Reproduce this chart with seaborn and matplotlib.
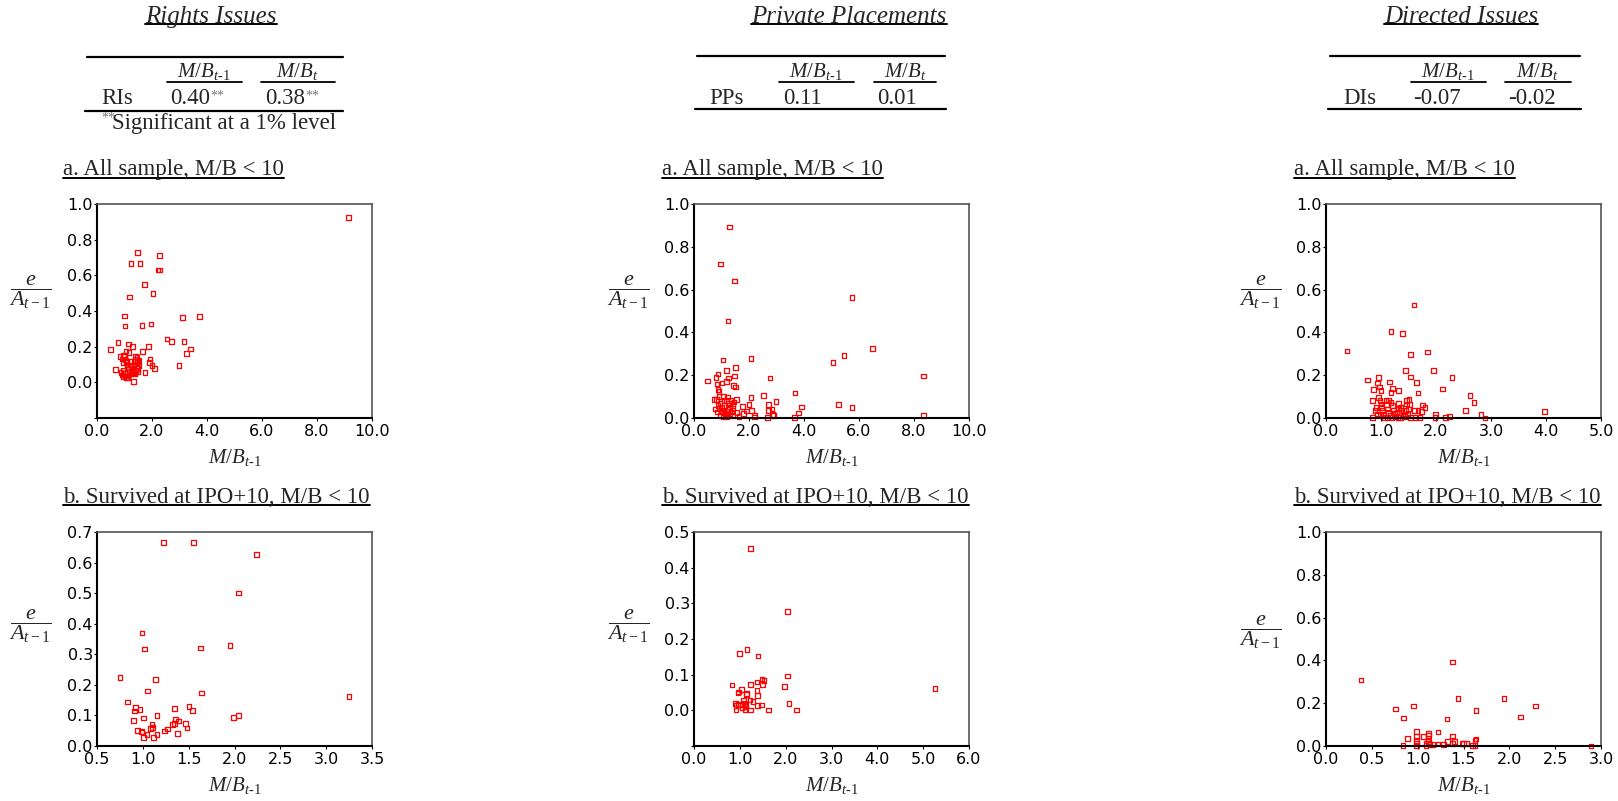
import matplotlib
matplotlib.use('Agg')
import matplotlib.pyplot as plt
from matplotlib.lines import Line2D
import seaborn as sns

# ---- data ----
# Rights issues, all sample
ri_all_x = [9.14, 1.48, 2.28, 1.23, 1.57, 2.22, 2.28, 1.73, 1.19, 2.04, 1.00, 1.02, 1.63, 1.97,
            3.10, 3.73, 2.54, 2.72, 3.17, 3.39, 3.26, 2.98, 0.49, 0.77, 1.14, 1.30, 1.87, 1.66,
            1.17, 1.06, 0.84, 0.67, 1.74, 1.93, 1.90, 2.00, 2.08, 1.32,
            0.91, 0.94, 0.97, 1.00, 1.03, 1.07, 1.09, 1.13, 1.15, 0.95, 1.00, 1.03, 1.07, 1.12,
            1.17, 1.24, 1.28, 1.31, 1.35, 1.37, 1.40, 1.45, 1.48, 1.53, 1.51, 1.46, 1.42, 1.37,
            1.32, 0.87, 0.92, 0.97, 1.19, 1.22, 1.24, 1.39, 1.45, 1.48, 1.48]
ri_all_y = [0.925, 0.728, 0.710, 0.667, 0.667, 0.629, 0.629, 0.549, 0.478, 0.498, 0.373, 0.316,
            0.320, 0.328, 0.363, 0.369, 0.243, 0.228, 0.228, 0.187, 0.161, 0.094, 0.184, 0.225,
            0.215, 0.200, 0.200, 0.172, 0.167, 0.176, 0.144, 0.073, 0.054, 0.131, 0.112, 0.096,
            0.077, 0.006,
            0.131, 0.110, 0.154, 0.144, 0.125, 0.110, 0.097, 0.088, 0.075, 0.066, 0.050, 0.036,
            0.028, 0.028, 0.041, 0.060, 0.069, 0.079, 0.097, 0.116, 0.129, 0.140, 0.116, 0.125,
            0.095, 0.079, 0.060, 0.047, 0.056, 0.054, 0.041, 0.032, 0.064, 0.097, 0.116, 0.144,
            0.110, 0.079, 0.060]

# Rights issues, survived at IPO+10
ri_surv_x = [1.225, 1.554, 2.239, 2.042, 0.992, 1.018, 1.630, 1.951, 0.752, 1.138, 1.051, 1.641,
             3.249, 0.835, 0.919, 0.967, 0.908, 1.156, 1.010, 0.901, 1.346, 1.503, 1.543, 1.991,
             2.042, 1.101, 1.105, 1.083, 0.944, 0.985, 0.992, 1.047, 1.010, 1.116, 1.156, 1.236,
             1.266, 1.324, 1.346, 1.357, 1.390, 1.379, 1.467, 1.481]
ri_surv_y = [0.666, 0.666, 0.627, 0.500, 0.370, 0.317, 0.320, 0.329, 0.225, 0.217, 0.180, 0.173,
             0.161, 0.144, 0.125, 0.120, 0.115, 0.099, 0.092, 0.084, 0.123, 0.130, 0.116, 0.093,
             0.099, 0.071, 0.060, 0.058, 0.051, 0.048, 0.046, 0.038, 0.028, 0.028, 0.038, 0.049,
             0.056, 0.070, 0.073, 0.088, 0.082, 0.041, 0.074, 0.059]

# Private placements, all sample
pp_all_x = [1.28, 0.97, 1.48, 1.23, 5.75, 6.48, 5.46, 5.05, 8.34, 8.34, 5.26, 5.74, 1.06, 2.07,
            1.52, 1.19, 0.49, 0.87, 0.80, 0.84, 1.02, 1.18, 1.26, 1.48, 1.43, 1.51, 2.76, 2.52,
            2.07, 3.67, 2.98, 3.92, 3.80, 3.66, 2.70, 2.70, 2.84, 2.86, 2.89, 2.67, 2.21, 2.20,
            2.09, 2.00, 1.90, 1.80, 1.77, 1.64, 1.57, 1.54, 1.45,
            0.87, 0.91, 0.73, 0.81, 0.77, 0.84, 0.91, 0.95, 1.00, 1.03, 1.07, 1.09, 1.12, 1.14,
            1.18, 1.06, 0.97, 1.23, 1.26, 1.30, 1.34, 1.37, 1.41, 1.29, 1.19, 1.09, 1.01, 0.92,
            0.87, 1.41, 1.39, 1.22]
pp_all_y = [0.892, 0.719, 0.640, 0.454, 0.563, 0.324, 0.292, 0.259, 0.197, 0.012, 0.062, 0.050,
            0.271, 0.279, 0.237, 0.223, 0.172, 0.206, 0.190, 0.159, 0.164, 0.170, 0.186, 0.197,
            0.153, 0.145, 0.186, 0.106, 0.095, 0.117, 0.078, 0.051, 0.023, 0.002, 0.064, 0.036,
            0.042, 0.017, 0.011, 0.003, 0.005, 0.012, 0.036, 0.064, 0.033, 0.020, 0.055, 0.008,
            0.027, 0.087, 0.075,
            0.133, 0.125, 0.087, 0.087, 0.042, 0.028, 0.101, 0.067, 0.051, 0.036, 0.101, 0.083,
            0.059, 0.020, 0.005, 0.005, 0.012, 0.039, 0.067, 0.051, 0.083, 0.028, 0.012, 0.020,
            0.083, 0.031, 0.028, 0.044, 0.059, 0.059, 0.044, 0.098]

# Private placements, survived at IPO+10
pp_surv_x = [1.228, 2.040, 0.987, 1.155, 1.400, 2.040, 5.260, 0.833, 0.965, 0.958, 1.031, 1.140,
             1.148, 1.235, 1.374, 1.484, 1.528, 1.491, 1.374, 1.382, 1.974, 2.076, 2.230, 1.623,
             1.235, 1.469, 1.389, 1.221, 1.287, 1.082, 1.096, 1.118, 1.133, 1.111, 1.045, 1.009,
             0.958, 0.906, 0.914, 0.914, 1.060]
pp_surv_y = [0.453, 0.277, 0.160, 0.170, 0.152, 0.096, 0.061, 0.071, 0.051, 0.049, 0.059, 0.047,
             0.044, 0.072, 0.079, 0.088, 0.083, 0.072, 0.056, 0.041, 0.066, 0.020, 0.001, 0.001,
             0.001, 0.015, 0.013, 0.029, 0.024, 0.029, 0.020, 0.015, 0.010, 0.001, 0.006, 0.015,
             0.017, 0.020, 0.013, 0.001, 0.015]

# Directed issues, all sample
di_all_x = [1.60, 1.18, 1.39, 0.38, 1.84, 1.54, 1.44, 1.95, 2.29, 1.54, 1.64, 0.96, 1.15, 0.76,
            0.94, 0.97, 0.86, 1.00, 1.21, 1.18, 1.32, 1.67, 2.12, 2.62, 2.69, 2.54, 3.97, 2.82,
            2.89, 2.25, 2.17, 1.99, 1.98, 1.80, 1.75, 1.74, 1.67, 1.61, 1.71, 1.62, 1.54, 1.52,
            1.51, 1.46, 1.46, 1.32, 0.84, 0.91, 0.85,
            0.96, 0.98, 1.00, 1.01, 1.03, 1.04, 1.06, 1.09, 1.10, 1.12, 1.14, 1.17, 1.14, 1.18,
            1.21, 1.23, 1.24, 1.26, 1.29, 1.32, 1.35, 1.37, 1.40, 1.43, 1.44, 1.48, 1.50, 0.94,
            0.89, 1.31, 1.36, 1.20, 1.11, 0.99]
di_all_y = [0.528, 0.405, 0.394, 0.313, 0.308, 0.298, 0.223, 0.223, 0.189, 0.192, 0.167, 0.189,
            0.169, 0.177, 0.163, 0.144, 0.133, 0.128, 0.139, 0.120, 0.128, 0.116, 0.136, 0.106,
            0.073, 0.036, 0.031, 0.017, 0.000, 0.008, 0.003, 0.016, 0.003, 0.048, 0.061, 0.030,
            0.034, 0.034, 0.002, 0.002, 0.002, 0.064, 0.086, 0.081, 0.066, 0.069, 0.081, 0.050,
            0.003,
            0.097, 0.081, 0.066, 0.050, 0.034, 0.019, 0.003, 0.081, 0.063, 0.042, 0.027, 0.011,
            0.084, 0.073, 0.058, 0.038, 0.022, 0.006, 0.027, 0.042, 0.050, 0.034, 0.019, 0.006,
            0.034, 0.019, 0.042, 0.019, 0.034, 0.003, 0.003, 0.003, 0.003, 0.011]

# Directed issues, survived at IPO+10
di_surv_x = [1.380, 0.382, 1.438, 1.940, 0.757, 0.957, 2.286, 1.638, 0.848, 1.318, 2.119, 0.987,
             0.990, 0.990, 0.990, 0.990, 0.892, 0.841, 1.063, 1.121, 1.121, 1.114, 1.220, 1.092,
             1.092, 1.121, 1.136, 1.169, 1.220, 1.281, 1.325, 1.380, 1.401, 1.380, 1.482, 1.503,
             1.536, 1.598, 1.627, 1.624, 1.638, 2.890]
di_surv_y = [0.393, 0.309, 0.222, 0.222, 0.173, 0.187, 0.187, 0.165, 0.131, 0.126, 0.136, 0.067,
             0.044, 0.025, 0.012, 0.000, 0.036, 0.002, 0.045, 0.059, 0.050, 0.036, 0.066, 0.012,
             0.002, 0.020, 0.008, 0.006, 0.009, 0.008, 0.022, 0.047, 0.020, 0.011, 0.012, 0.011,
             0.012, 0.002, 0.002, 0.025, 0.033, 0.000]

headings = ['Rights Issues', 'Private Placements', 'Directed Issues']
row_names = ['RIs', 'PPs', 'DIs']
corr_prev = ['0.40', '0.11', '-0.07']
corr_curr = ['0.38', '0.01', '-0.02']
corr_sig = [True, False, False]
sub_a = 'a. All sample, M/B < 10'
sub_b = 'b. Survived at IPO+10, M/B < 10'

# ---- style ----
sns.set_style('ticks')
plt.rcParams['font.family'] = ['DejaVu Sans']
plt.rcParams['mathtext.fontset'] = 'custom'
plt.rcParams['mathtext.rm'] = 'Liberation Serif'
plt.rcParams['mathtext.it'] = 'Liberation Serif:italic'
plt.rcParams['mathtext.bf'] = 'Liberation Serif:bold'

W, H = 1618, 801
fig = plt.figure(figsize=(W / 100, H / 100), dpi=100)
renderer = fig.canvas.get_renderer()


def fx(x):
    return x / W


def fy(y):
    return 1 - y / H


def hline(x0, x1, y, lw=1.5):
    fig.add_artist(Line2D([fx(x0), fx(x1)], [fy(y), fy(y)], color='black', lw=lw,
                          transform=fig.transFigure))


def underline(txt, up=3, lw=1.4):
    bb = txt.get_window_extent(renderer)
    y = bb.y0 + up
    fig.add_artist(Line2D([bb.x0 / W, bb.x1 / W], [y / H, y / H], color='black', lw=lw,
                          transform=fig.transFigure))


def stars_after(txt, size=10):
    bb = txt.get_window_extent(renderer)
    fig.text(bb.x1 / W, (bb.y1 - 2) / H, '**', ha='left', va='top', family=serif,
             fontsize=size, color='#777777')


serif = 'Liberation Serif'
big = 16.5

# ---- headings and small tables ----
head_x = [211, 849, 1461]
tbl = [
    dict(top=(87, 343), hc=(204, 297), ul=((167, 242), (261, 335)), lab=117, val=(170, 265),
         bot=(85, 343), ytop=57, ybot=111),
    dict(top=(697, 945), hc=(816, 905), ul=((779, 854), (874, 936)), lab=727, val=(783, 877),
         bot=(695, 946), ytop=56, ybot=109),
    dict(top=(1330, 1580), hc=(1448, 1537), ul=((1411, 1486), (1505, 1571)), lab=1360,
         val=(1413, 1508), bot=(1328, 1581), ytop=56, ybot=109),
]
for i in range(3):
    t = fig.text(fx(head_x[i]), fy(17), headings[i], ha='center', va='center',
                 family=serif, style='italic', fontsize=18)
    underline(t, up=4)
    d = tbl[i]
    hline(d['top'][0], d['top'][1], d['ytop'], lw=1.6)
    fig.text(fx(d['hc'][0]), fy(72), r'$M/B_{t\text{-}1}$', ha='center', va='center', fontsize=15)
    fig.text(fx(d['hc'][1]), fy(72), r'$M/B_{t}$', ha='center', va='center', fontsize=15)
    for a, b in d['ul']:
        hline(a, b, 82, lw=1.3)
    fig.text(fx(d['lab']), fy(98), row_names[i], ha='center', va='center', family=serif,
             fontsize=big)
    v1 = fig.text(fx(d['val'][0]), fy(98), corr_prev[i], ha='left', va='center', family=serif,
                  fontsize=big)
    v2 = fig.text(fx(d['val'][1]), fy(98), corr_curr[i], ha='left', va='center', family=serif,
                  fontsize=big)
    if corr_sig[i]:
        stars_after(v1)
        stars_after(v2)
    hline(d['bot'][0], d['bot'][1], d['ybot'], lw=1.6)

fig.text(fx(101), fy(118), '**', ha='left', va='center', family=serif, fontsize=10,
         color='#777777')
fig.text(fx(112), fy(123), 'Significant at a 1% level', ha='left', va='center',
         family=serif, fontsize=big)

# ---- scatter panels ----
panels = [
    dict(x=ri_all_x, y=ri_all_y, left=97, top=204, xlim=(0, 10), xt=[0, 2, 4, 6, 8, 10],
         ylim=(-0.2, 1.0), yt=[-0.2, 0, 0.2, 0.4, 0.6, 0.8, 1.0], ylab=(30, 292)),
    dict(x=ri_surv_x, y=ri_surv_y, left=97, top=532, xlim=(0.5, 3.5),
         xt=[0.5, 1.0, 1.5, 2.0, 2.5, 3.0, 3.5], ylim=(0, 0.7),
         yt=[0, 0.1, 0.2, 0.3, 0.4, 0.5, 0.6, 0.7], ylab=(30, 626)),
    dict(x=pp_all_x, y=pp_all_y, left=694, top=204, xlim=(0, 10), xt=[0, 2, 4, 6, 8, 10],
         ylim=(0, 1.0), yt=[0, 0.2, 0.4, 0.6, 0.8, 1.0], ylab=(628, 292)),
    dict(x=pp_surv_x, y=pp_surv_y, left=694, top=532, xlim=(0, 6), xt=[0, 1, 2, 3, 4, 5, 6],
         ylim=(-0.1, 0.5), yt=[-0.1, 0, 0.1, 0.2, 0.3, 0.4, 0.5], ylab=(628, 626)),
    dict(x=di_all_x, y=di_all_y, left=1326, top=204, xlim=(0, 5), xt=[0, 1, 2, 3, 4, 5],
         ylim=(0, 1.0), yt=[0, 0.2, 0.4, 0.6, 0.8, 1.0], ylab=(1260, 292)),
    dict(x=di_surv_x, y=di_surv_y, left=1326, top=532, xlim=(0, 3),
         xt=[0, 0.5, 1.0, 1.5, 2.0, 2.5, 3.0], ylim=(0, 1.0),
         yt=[0, 0.2, 0.4, 0.6, 0.8, 1.0], ylab=(1260, 632)),
]
sub_left = [63, 63, 662, 662, 1294, 1294]
aw, ah = 275, 214

for k, p in enumerate(panels):
    ax = fig.add_axes([fx(p['left']), fy(p['top'] + ah), aw / W, ah / H])
    sns.scatterplot(x=p['x'], y=p['y'], ax=ax, marker='s', s=11, facecolor='none',
                    edgecolor='red', linewidth=0.9, legend=False)
    ax.collections[-1].set_clip_on(False)
    ax.set_xlim(*p['xlim'])
    ax.set_ylim(*p['ylim'])
    ax.set_xticks(p['xt'])
    ax.set_xticklabels([f'{v:.1f}' for v in p['xt']])
    ax.set_yticks(p['yt'])
    ax.set_yticklabels(['' if v < 0 else f'{v:.1f}' for v in p['yt']])
    ax.tick_params(axis='y', length=2, pad=1, labelsize=11.5, colors='black')
    ax.tick_params(axis='x', length=2, pad=2, labelsize=11.5, colors='black')
    for side in ['left', 'bottom']:
        ax.spines[side].set_color('black')
        ax.spines[side].set_linewidth(1.5)
    for side in ['top', 'right']:
        ax.spines[side].set_visible(True)
        ax.spines[side].set_color('#555555')
        ax.spines[side].set_linewidth(1.2)
    ax.set_xlabel(r'$M/B_{t\text{-}1}$', fontsize=15)
    ax.xaxis.set_label_coords(0.5, -0.135)
    ax.set_ylabel('')

    fig.text(fx(p['ylab'][0]), fy(p['ylab'][1]), r'$\dfrac{e}{A_{t-1}}$', ha='center',
             va='center', fontsize=16)

    sub_y = 170 if k % 2 == 0 else 498
    st = fig.text(fx(sub_left[k]), fy(sub_y), sub_a if k % 2 == 0 else sub_b, ha='left',
                  va='center', family=serif, fontsize=big)
    underline(st, up=3)

fig.savefig('out.png', dpi=100)
